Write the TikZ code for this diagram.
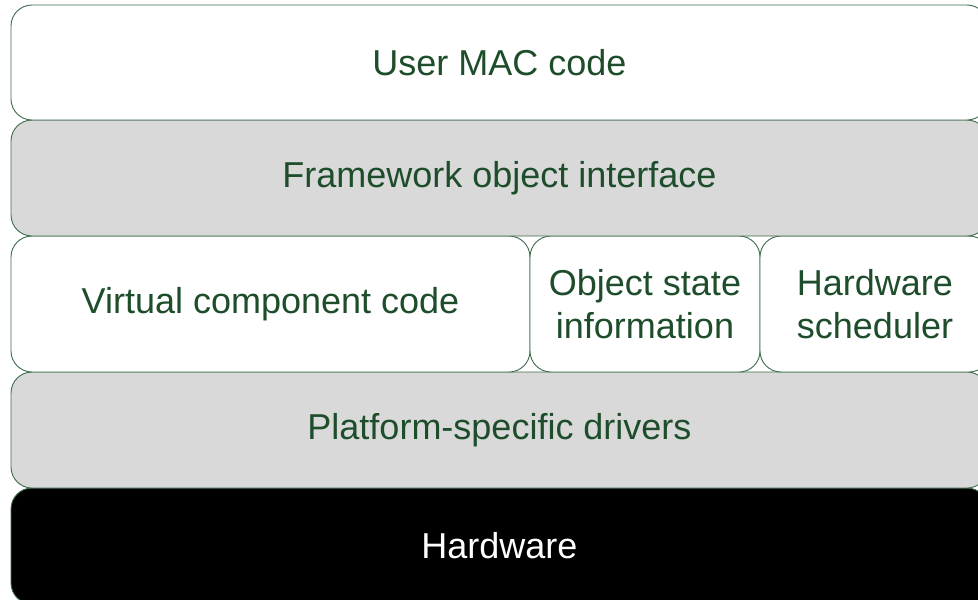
\documentclass[tikz,border=0pt]{standalone}
\usepackage{fontspec}
\setmainfont{Liberation Sans}
\definecolor{edgegreen}{HTML}{3E6B4C}
\definecolor{textgreen}{HTML}{1E4D2B}
\definecolor{layergray}{HTML}{D9D9D9}
\tikzset{
  layer/.style={draw=edgegreen, line width=0.9pt, rounded corners=21pt,
    text=textgreen, font=\fontsize{36}{43.5}\selectfont, align=center},
  whitelayer/.style={layer, fill=white},
  graylayer/.style={layer, fill=layergray},
  blacklayer/.style={layer, fill=black, text=white},
}
\begin{document}
\begin{tikzpicture}[x=1pt, y=-1pt]
\useasboundingbox (0,0) rectangle (978,600);
\clip (0,0) rectangle (978,600);
\fill[white] (0,0) rectangle (978,600);
% stacked layers, bottom first so upper ones overlap the seams
\draw[blacklayer] (11,488) rectangle (988,604);
\node[text=white, font=\fontsize{36}{43.5}\selectfont] (hw) at (499.5,546) {Hardware};
\draw[graylayer] (11,372) rectangle (988,488);
\node[text=textgreen, font=\fontsize{36}{43.5}\selectfont] (drv) at (499.5,430) {Platform-specific drivers};
\draw[whitelayer] (11,236) rectangle (530,372);
\node[text=textgreen, font=\fontsize{36}{43.5}\selectfont] (vcc) at (270.5,304) {Virtual component code};
\draw[whitelayer] (530,236) rectangle (760,372);
\node[text=textgreen, font=\fontsize{36}{43.5}\selectfont, align=center] (osi) at (645,304) {Object state\\information};
\draw[whitelayer] (760,236) rectangle (990,372);
\node[text=textgreen, font=\fontsize{36}{43.5}\selectfont, align=center] (hs) at (875,304) {Hardware\\scheduler};
\draw[graylayer] (11,120) rectangle (988,236);
\node[text=textgreen, font=\fontsize{36}{43.5}\selectfont] (foi) at (499.5,178) {Framework object interface};
\draw[whitelayer] (11,5) rectangle (988,120);
\node[text=textgreen, font=\fontsize{36}{43.5}\selectfont] (umc) at (499.5,62.5) {User MAC code};
\end{tikzpicture}
\end{document}
